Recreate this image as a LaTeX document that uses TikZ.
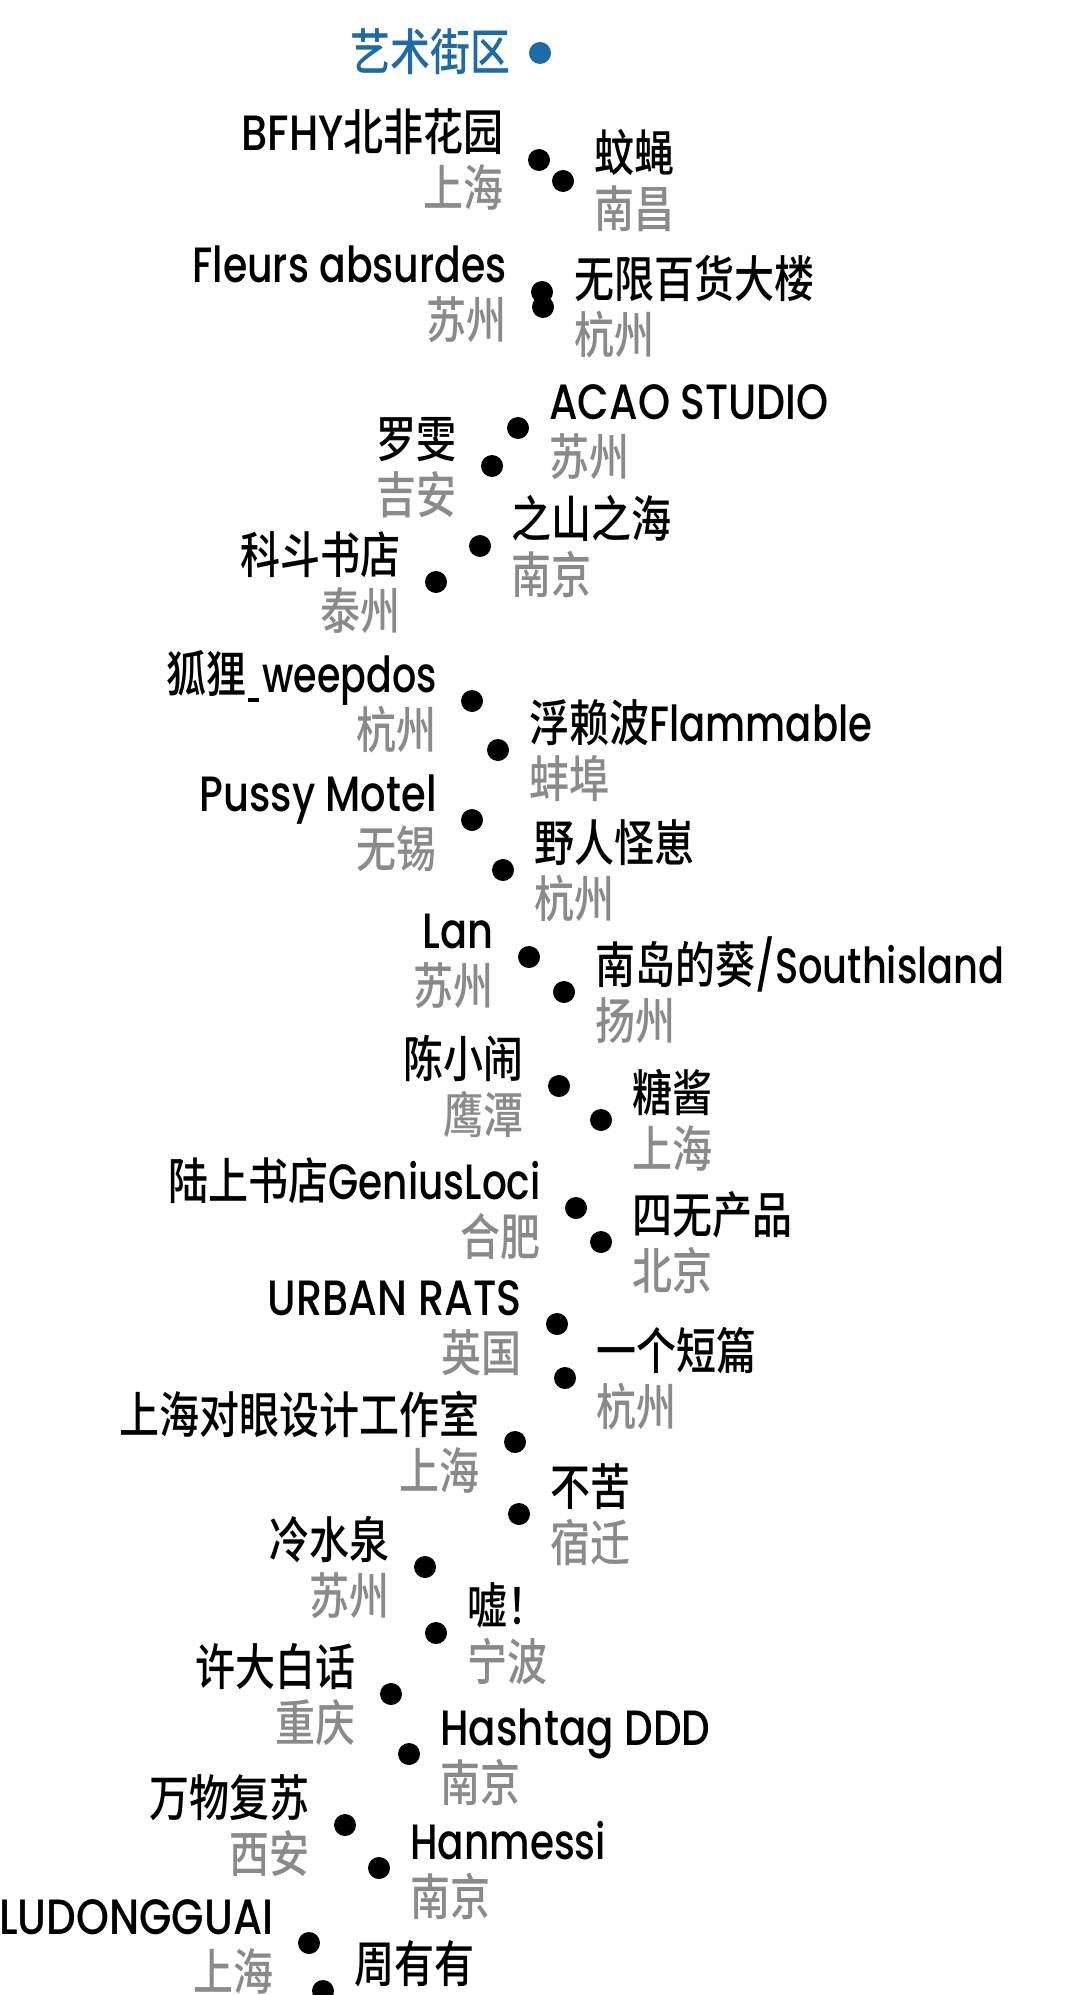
\documentclass[tikz,border=0pt]{standalone}
\usepackage{fontspec}
\setmainfont{Poppins Medium}
\newfontfamily\cjk{Noto Sans CJK SC Medium}
\usepackage{graphicx}
\definecolor{grayone}{HTML}{8A8A8A}
\definecolor{blueone}{HTML}{1F6AA5}
\newcommand\sy[1]{\scalebox{1}[1.24]{#1}}
\newcommand\hs[2]{\scalebox{#1}[1]{#2}}
\newcommand\usc{\kern0.04em\rule[-0.2em]{0.28em}{0.07em}\kern0.08em}
\newcommand\Lbl[3]{%
  \node[lt] (#1a) at ([shift={(-35,-9)}]#1.center) {\sy{#2}};
  \node[lt,gr] (#1b) at ([shift={(-35,47)}]#1.center) {\sy{#3}};}
\newcommand\Rbl[3]{%
  \node[rt] (#1a) at ([shift={(31,-9)}]#1.center) {\sy{#2}};
  \node[rt,gr] (#1b) at ([shift={(31,47)}]#1.center) {\sy{#3}};}
\tikzset{
  dotb/.style={circle, fill=black, minimum size=11pt, inner sep=0pt},
  lt/.style={anchor=base east, inner sep=0pt, font=\fontsize{20}{24}\selectfont},
  rt/.style={anchor=base west, inner sep=0pt, font=\fontsize{20}{24}\selectfont},
  gr/.style={text=grayone}
}
\begin{document}
\begin{tikzpicture}[x=0.5pt,y=-0.5pt]
\useasboundingbox[fill=white] (0,0) rectangle (1081,1995);
% dots
\node[dotb,fill=blueone] (d1) at (540,53) {};
\node[dotb] (d2) at (539,160) {};
\node[dotb] (d3) at (563,181) {};
\node[dotb] (d4) at (542,292) {};
\node[dotb] (d5) at (543,307) {};
\node[dotb] (d6) at (518,428) {};
\node[dotb] (d7) at (492,466) {};
\node[dotb] (d8) at (480,546) {};
\node[dotb] (d9) at (436,582) {};
\node[dotb] (d10) at (472,701) {};
\node[dotb] (d11) at (498,750) {};
\node[dotb] (d12) at (472,820) {};
\node[dotb] (d13) at (503,870) {};
\node[dotb] (d14) at (529,957) {};
\node[dotb] (d15) at (564,992) {};
\node[dotb] (d16) at (559,1086) {};
\node[dotb] (d17) at (601,1120) {};
\node[dotb] (d18) at (576,1208) {};
\node[dotb] (d19) at (601,1242) {};
\node[dotb] (d20) at (557,1324) {};
\node[dotb] (d21) at (565,1378) {};
\node[dotb] (d22) at (515,1442) {};
\node[dotb] (d23) at (519,1514) {};
\node[dotb] (d24) at (425,1567) {};
\node[dotb] (d25) at (436,1633) {};
\node[dotb] (d26) at (391,1694) {};
\node[dotb] (d27) at (409,1754) {};
\node[dotb] (d28) at (345,1825) {};
\node[dotb] (d29) at (379,1868) {};
\node[dotb] (d30) at (309,1943) {};
\node[dotb] (d31) at (323,1991) {};
% labels
\node[lt,text=blueone] (d1a) at ([shift={(-29,18)}]d1.center) {\sy{\cjk 艺术街区}};
\Lbl{d2}{\hs{1.04}{BFHY}{\cjk 北非花园}}{\cjk 上海}
\Rbl{d3}{\cjk 蚊蝇}{\cjk 南昌}
\Lbl{d4}{\hs{0.985}{Fleurs absurdes}}{\cjk 苏州}
\Rbl{d5}{\cjk 无限百货大楼}{\cjk 杭州}
\Rbl{d6}{\hs{1.023}{ACAO STUDIO}}{\cjk 苏州}
\Lbl{d7}{\cjk 罗雯}{\cjk 吉安}
\Rbl{d8}{\cjk 之山之海}{\cjk 南京}
\Lbl{d9}{\cjk 科斗书店}{\cjk 泰州}
\Lbl{d10}{{\cjk 狐狸}\usc\hs{0.95}{weepdos}}{\cjk 杭州}
\Rbl{d11}{{\cjk 浮赖波}\hs{0.965}{Flammable}}{\cjk 蚌埠}
\Lbl{d12}{Pussy Motel}{\cjk 无锡}
\Rbl{d13}{\cjk 野人怪崽}{\cjk 杭州}
\Lbl{d14}{Lan}{\cjk 苏州}
\Rbl{d15}{{\cjk 南岛的葵}\hs{0.96}{/Southisland}}{\cjk 扬州}
\Lbl{d16}{\cjk 陈小闹}{\cjk 鹰潭}
\Rbl{d17}{\cjk 糖酱}{\cjk 上海}
\Lbl{d18}{{\cjk 陆上书店}\hs{0.975}{GeniusLoci}}{\cjk 合肥}
\Rbl{d19}{\cjk 四无产品}{\cjk 北京}
\Lbl{d20}{\hs{1.036}{URBAN RATS}}{\cjk 英国}
\Rbl{d21}{\cjk 一个短篇}{\cjk 杭州}
\Lbl{d22}{\cjk 上海对眼设计工作室}{\cjk 上海}
\Rbl{d23}{\cjk 不苦}{\cjk 宿迁}
\Lbl{d24}{\cjk 冷水泉}{\cjk 苏州}
\Rbl{d25}{\cjk 嘘！}{\cjk 宁波}
\Lbl{d26}{\cjk 许大白话}{\cjk 重庆}
\Rbl{d27}{\hs{1.01}{Hashtag DDD}}{\cjk 南京}
\Lbl{d28}{\cjk 万物复苏}{\cjk 西安}
\Rbl{d29}{\hs{0.974}{Hanmessi}}{\cjk 南京}
\Lbl{d30}{\hs{1.048}{LUDONGGUAI}}{\cjk 上海}
\node[rt] (d31a) at ([shift={(31,-9)}]d31.center) {\sy{\cjk 周有有}};
\end{tikzpicture}
\end{document}
